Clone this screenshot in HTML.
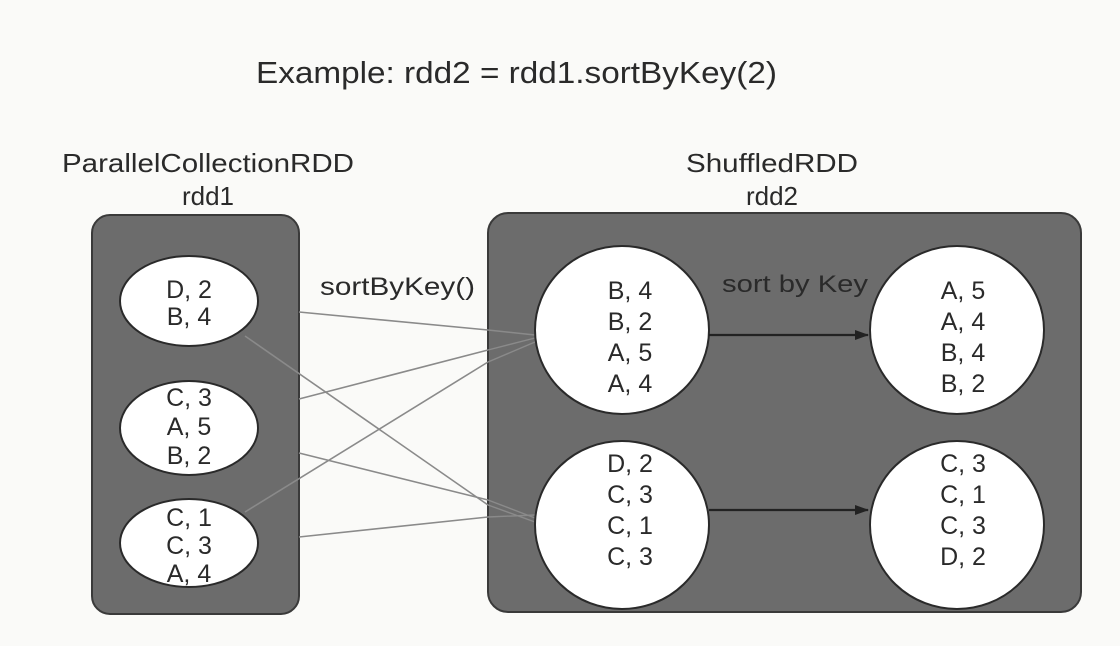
<!DOCTYPE html>
<html><head><style>
html,body{margin:0;padding:0;background:#fafaf8;}
svg{display:block;}
text{font-family:"Liberation Sans",Arial,sans-serif;fill:#2a2a2a;}
</style></head><body>
<svg width="1120" height="646" viewBox="0 0 1120 646" xmlns="http://www.w3.org/2000/svg">
<defs>
<marker id="ah" markerWidth="14" markerHeight="10" refX="13" refY="5" orient="auto" markerUnits="userSpaceOnUse">
<path d="M0,0 L14,5 L0,10 z" fill="#222"/>
</marker>
</defs>
<rect width="1120" height="646" fill="#fafaf8"/>
<text x="256" y="83" font-size="31" textLength="521" lengthAdjust="spacingAndGlyphs">Example: rdd2 = rdd1.sortByKey(2)</text>
<text x="62" y="172" font-size="26" textLength="292" lengthAdjust="spacingAndGlyphs">ParallelCollectionRDD</text>
<text x="208" y="205" font-size="26" text-anchor="middle">rdd1</text>
<text x="686" y="172" font-size="26" textLength="172" lengthAdjust="spacingAndGlyphs">ShuffledRDD</text>
<text x="772" y="205" font-size="26" text-anchor="middle">rdd2</text>

<rect x="92" y="215" width="207" height="399" rx="18" fill="#6c6c6c" stroke="#3a3a3a" stroke-width="2"/>
<rect x="488" y="213" width="593" height="399" rx="20" fill="#6c6c6c" stroke="#3a3a3a" stroke-width="2"/>

<g stroke="#8a8a8a" stroke-width="1.6" fill="none">
<line x1="299" y1="312" x2="488" y2="330"/>
<line x1="245" y1="336" x2="488" y2="505"/>
<line x1="299" y1="399" x2="488" y2="350"/>
<line x1="245" y1="512" x2="488" y2="362"/>
<line x1="299" y1="453" x2="488" y2="500"/>
<line x1="299" y1="537" x2="488" y2="517"/>
</g>
<g stroke="#8a8a8a" stroke-width="1.4" fill="none">
<line x1="488" y1="330" x2="535" y2="335"/>
<line x1="488" y1="350" x2="535" y2="338"/>
<line x1="488" y1="362" x2="535" y2="342"/>
<line x1="488" y1="505" x2="535" y2="522"/>
<line x1="488" y1="500" x2="535" y2="518"/>
<line x1="488" y1="517" x2="535" y2="515"/>
</g>

<g fill="#fff" stroke="#2a2a2a" stroke-width="2">
<ellipse cx="189" cy="301" rx="69" ry="45"/>
<ellipse cx="189" cy="428" rx="69" ry="47"/>
<ellipse cx="189" cy="543" rx="69" ry="44"/>
<ellipse cx="622" cy="330" rx="87" ry="84"/>
<ellipse cx="957" cy="330" rx="87" ry="84"/>
<ellipse cx="622" cy="525" rx="87" ry="84"/>
<ellipse cx="957" cy="525" rx="87" ry="84"/>
</g>

<g stroke="#222" stroke-width="2.2">
<line x1="709" y1="335" x2="868" y2="335" marker-end="url(#ah)"/>
<line x1="709" y1="510" x2="868" y2="510" marker-end="url(#ah)"/>
</g>

<text x="320" y="295" font-size="25" textLength="155" lengthAdjust="spacingAndGlyphs">sortByKey()</text>
<text x="722" y="292" font-size="24" fill="#222" textLength="146" lengthAdjust="spacingAndGlyphs">sort by Key</text>

<g font-size="25" text-anchor="middle">
<text x="189" y="298">D, 2</text>
<text x="189" y="325">B, 4</text>
<text x="189" y="406">C, 3</text>
<text x="189" y="435">A, 5</text>
<text x="189" y="464">B, 2</text>
<text x="189" y="526">C, 1</text>
<text x="189" y="554">C, 3</text>
<text x="189" y="582">A, 4</text>

<text x="630" y="299">B, 4</text>
<text x="630" y="330">B, 2</text>
<text x="630" y="361">A, 5</text>
<text x="630" y="392">A, 4</text>
<text x="963" y="299">A, 5</text>
<text x="963" y="330">A, 4</text>
<text x="963" y="361">B, 4</text>
<text x="963" y="392">B, 2</text>

<text x="630" y="472">D, 2</text>
<text x="630" y="503">C, 3</text>
<text x="630" y="534">C, 1</text>
<text x="630" y="565">C, 3</text>
<text x="963" y="472">C, 3</text>
<text x="963" y="503">C, 1</text>
<text x="963" y="534">C, 3</text>
<text x="963" y="565">D, 2</text>
</g>
</svg>
</body></html>
